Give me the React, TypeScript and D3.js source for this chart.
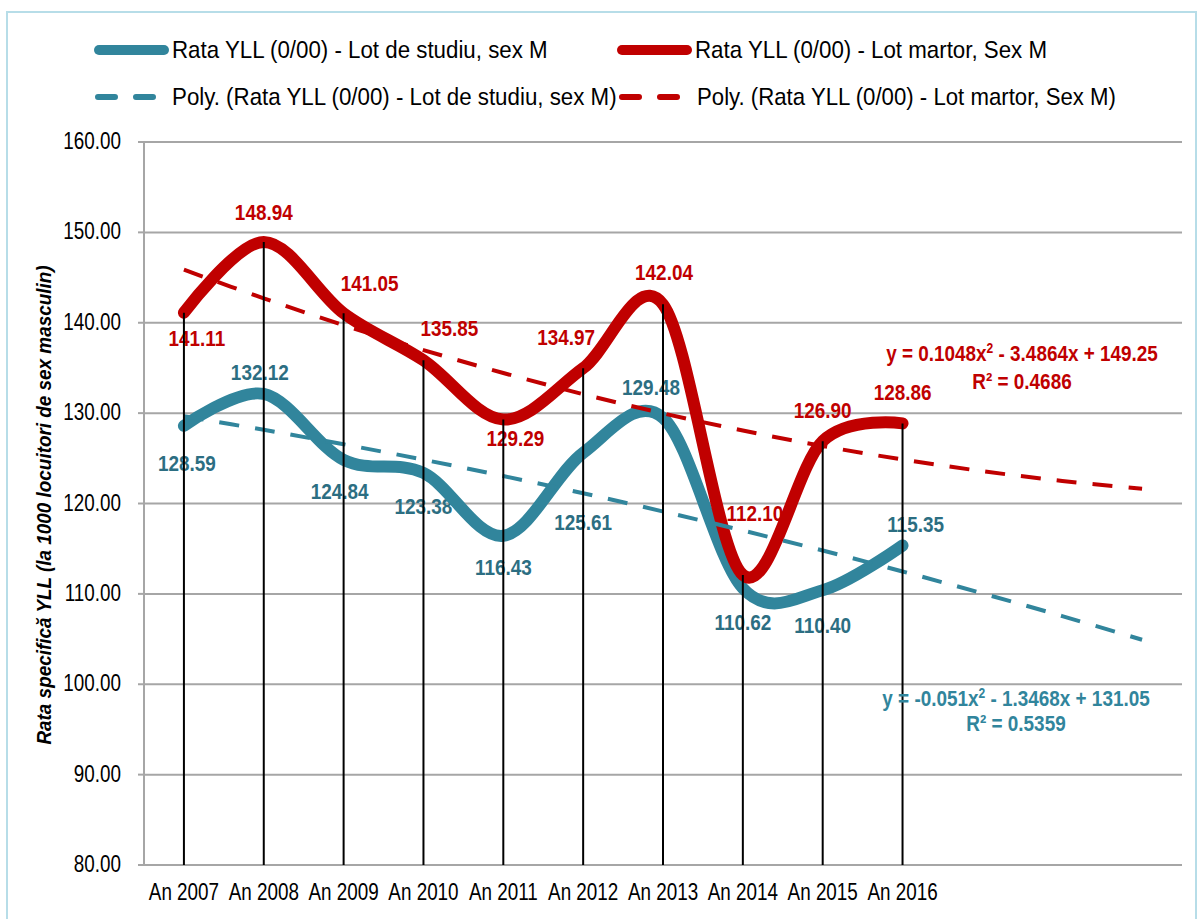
import React from 'react';
import * as d3 from 'd3';

const years = ['An 2007', 'An 2008', 'An 2009', 'An 2010', 'An 2011', 'An 2012', 'An 2013', 'An 2014', 'An 2015', 'An 2016'];
const studiu = [128.59, 132.12, 124.84, 123.38, 116.43, 125.61, 129.48, 110.62, 110.40, 115.35];
const martor = [141.11, 148.94, 141.05, 135.85, 129.29, 134.97, 142.04, 112.10, 126.90, 128.86];
// polynomial trend lines as drawn (13 periods, 3 forecast)
const trendStudiu = [129.65, 128.15, 126.55, 124.85, 123.04, 121.13, 119.12, 117.01, 114.80, 112.48, 110.06, 107.54, 104.92];
const trendMartor = [145.87, 142.70, 139.73, 136.98, 134.44, 132.10, 129.98, 128.07, 126.36, 124.87, 123.58, 122.50, 121.64];
const yTicks = [80, 90, 100, 110, 120, 130, 140, 150, 160];

const legendNames = [
  'Rata YLL (0/00) - Lot de studiu, sex M',
  'Rata YLL (0/00) - Lot martor, Sex M',
  'Poly. (Rata YLL (0/00) - Lot de studiu, sex M)',
  'Poly. (Rata YLL (0/00) - Lot martor, Sex M)',
];

// label offsets from points [dx, dy]
const studiuLabelOff = [[3, 37], [-4, -22], [-4, 31], [0, 33], [0, 31], [0, 69], [-12, -31], [0, 34], [0, 35], [13, -22]];
const martorLabelOff = [[13, 25], [0, -30], [26, -30], [26, -32], [12, 18], [-17, -31], [1, -32], [12, -62], [0, -31], [0, -31]];

const BLUE = '#31859c';
const BLUE_LBL = '#2c6e82';
const RED = '#c00000';
const GRID = '#a6a6a6';
const FONT = "'Liberation Sans', Arial, sans-serif";

const margin = { left: 144, right: 1182, top: 142, bottom: 865 };

export default function App() {
  const nBands = 13;
  const x = d3.scaleBand<number>()
    .domain(d3.range(nBands))
    .range([margin.left, margin.right]);
  const cx = (i: number) => (x(i) as number) + x.bandwidth() / 2;
  const y = d3.scaleLinear().domain([80, 160]).range([margin.bottom, margin.top]);

  const smooth = d3.line<number>()
    .x((_, i) => cx(i))
    .y((d) => y(d))
    .curve(d3.curveCardinal.tension(0));
  const trend = d3.line<number>()
    .x((_, i) => cx(i))
    .y((d) => y(d))
    .curve(d3.curveCatmullRom.alpha(0.5));

  const narrow = (tx: number, ty: number, s: number) => `translate(${tx},${ty}) scale(${s},1)`;

  return (
    <svg width={1203} height={919} style={{ position: 'absolute', left: 0, top: 0, background: '#fff' }}>
      <rect x={7} y={12} width={1189} height={920} fill="#fff" stroke="#b7dde8" strokeWidth={2} />

      {/* gridlines */}
      {yTicks.map((t) => (
        <g key={t}>
          <line x1={margin.left} x2={margin.right} y1={y(t)} y2={y(t)} stroke={GRID} strokeWidth={2} />
          <line x1={margin.left - 6} x2={margin.left} y1={y(t)} y2={y(t)} stroke={GRID} strokeWidth={2} />
          <text transform={narrow(121, y(t) + 7, 0.82)} textAnchor="end" fontFamily={FONT} fontSize={23} fill="#000">
            {t.toFixed(2)}
          </text>
        </g>
      ))}
      <line x1={margin.left} x2={margin.left} y1={margin.top} y2={margin.bottom} stroke={GRID} strokeWidth={2} />

      {/* x labels */}
      {years.map((yr, i) => (
        <text key={yr} transform={narrow(cx(i), 900, 0.82)} textAnchor="middle" fontFamily={FONT} fontSize={23} fill="#000">
          {yr}
        </text>
      ))}

      {/* data labels (under the lines, like the original) */}
      {studiu.map((v, i) => (
        <text key={'ls' + i} transform={narrow(cx(i) + studiuLabelOff[i][0], y(v) + studiuLabelOff[i][1] + 8, 0.86)}
          textAnchor="middle" fontFamily={FONT} fontWeight="bold" fontSize={22} fill={BLUE_LBL}>
          {v.toFixed(2)}
        </text>
      ))}
      {martor.map((v, i) => (
        <text key={'lm' + i} transform={narrow(cx(i) + martorLabelOff[i][0], y(v) + martorLabelOff[i][1] + 8, 0.86)}
          textAnchor="middle" fontFamily={FONT} fontWeight="bold" fontSize={22} fill={RED}>
          {v.toFixed(2)}
        </text>
      ))}

      {/* series */}
      <path d={smooth(studiu) as string} fill="none" stroke={BLUE} strokeWidth={12} strokeLinecap="round" strokeLinejoin="round" />
      <path d={smooth(martor) as string} fill="none" stroke={RED} strokeWidth={12} strokeLinecap="round" strokeLinejoin="round" />
      <path d={trend(trendStudiu) as string} fill="none" stroke={BLUE} strokeWidth={4} strokeDasharray="20 16" />
      <path d={trend(trendMartor) as string} fill="none" stroke={RED} strokeWidth={4} strokeDasharray="20 16" />

      {/* drop lines */}
      {years.map((yr, i) => (
        <line key={'d' + yr} x1={cx(i)} x2={cx(i)} y1={y(Math.max(studiu[i], martor[i]))} y2={margin.bottom}
          stroke="#000" strokeWidth={2} />
      ))}

      {/* trend equations */}
      <g fontFamily={FONT} fontWeight="bold" fontSize={22} textAnchor="middle">
        <text transform={narrow(1022, 361, 0.86)} fill={RED}>
          y = 0.1048x<tspan dy={-8} fontSize={14}>2</tspan><tspan dy={8}> - 3.4864x + 149.25</tspan>
        </text>
        <text transform={narrow(1022, 389, 0.86)} fill={RED}>R² = 0.4686</text>
        <text transform={narrow(1016, 706, 0.86)} fill={BLUE}>
          y = -0.051x<tspan dy={-8} fontSize={14}>2</tspan><tspan dy={8}> - 1.3468x + 131.05</tspan>
        </text>
        <text transform={narrow(1016, 731, 0.86)} fill={BLUE}>R² = 0.5359</text>
      </g>

      {/* y axis title */}
      <text transform="translate(51,505) rotate(-90) scale(0.9,1)" textAnchor="middle" fontFamily={FONT}
        fontWeight="bold" fontStyle="italic" fontSize={21} fill="#000">
        Rata specifică YLL (la 1000 locuitori de sex masculin)
      </text>

      {/* legend */}
      <g fontFamily={FONT} fontSize={24} fill="#000">
        <line x1={99} x2={164} y1={50} y2={50} stroke={BLUE} strokeWidth={10} strokeLinecap="round" />
        <text transform={narrow(172, 58, 0.93)}>{legendNames[0]}</text>
        <line x1={622} x2={687} y1={50} y2={50} stroke={RED} strokeWidth={10} strokeLinecap="round" />
        <text transform={narrow(695, 58, 0.93)}>{legendNames[1]}</text>
        <line x1={98} x2={153} y1={97} y2={97} stroke={BLUE} strokeWidth={6} strokeLinecap="round" strokeDasharray="17 21" />
        <text transform={narrow(172, 105, 0.93)}>{legendNames[2]}</text>
        <line x1={622} x2={687} y1={97} y2={97} stroke={RED} strokeWidth={6} strokeLinecap="round" strokeDasharray="17 21" />
        <text transform={narrow(697, 105, 0.925)}>{legendNames[3]}</text>
      </g>
    </svg>
  );
}
